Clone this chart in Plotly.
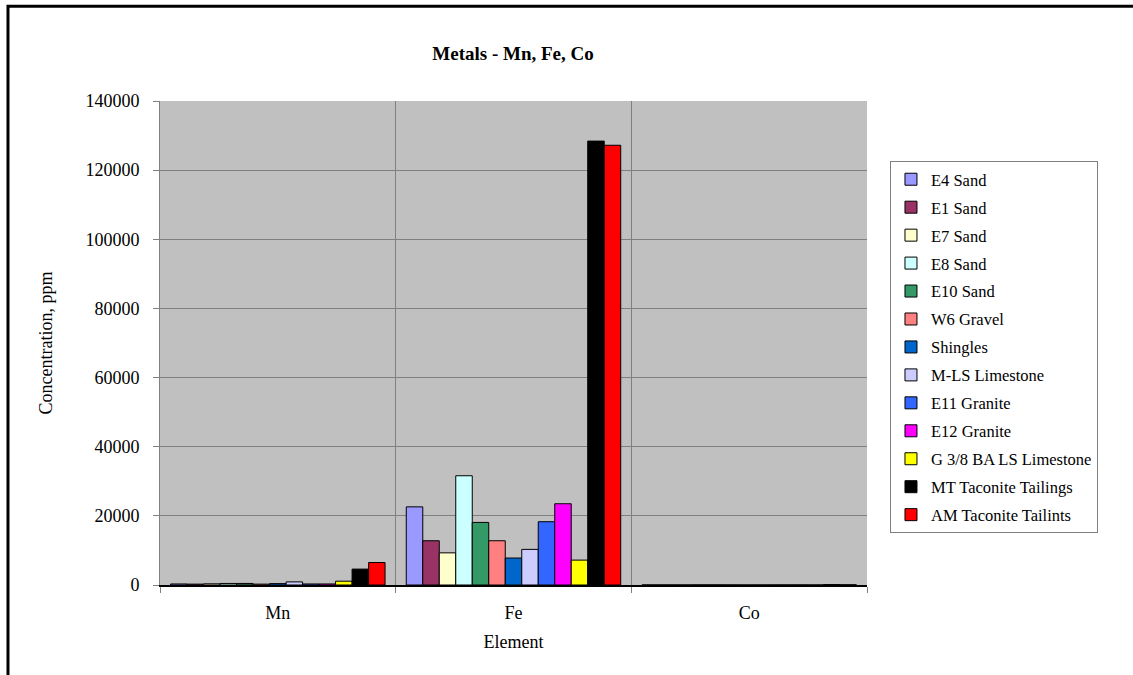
import plotly.graph_objects as go

# Element groups on the x axis
elements = ["Mn", "Fe", "Co"]

# Sample names (one bar per element)
samples = [
    "E4 Sand", "E1 Sand", "E7 Sand", "E8 Sand", "E10 Sand", "W6 Gravel",
    "Shingles", "M-LS Limestone", "E11 Granite", "E12 Granite",
    "G 3/8 BA LS Limestone", "MT Taconite Tailings", "AM Taconite Tailints",
]

# Concentrations in ppm, per sample: [Mn, Fe, Co]
e4_sand = [300, 22600, 20]
e1_sand = [250, 12800, 15]
e7_sand = [350, 9300, 15]
e8_sand = [450, 31600, 40]
e10_sand = [450, 18100, 30]
w6_gravel = [250, 12800, 20]
shingles = [400, 7800, 10]
mls_limestone = [900, 10300, 15]
e11_granite = [300, 18300, 20]
e12_granite = [300, 23500, 20]
g38_limestone = [1100, 7200, 15]
mt_tailings = [4600, 128400, 120]
am_tailings = [6500, 127200, 60]

series = [
    e4_sand, e1_sand, e7_sand, e8_sand, e10_sand, w6_gravel, shingles,
    mls_limestone, e11_granite, e12_granite, g38_limestone, mt_tailings,
    am_tailings,
]

colors = [
    "#9999FF", "#993366", "#FFFFCC", "#CCFFFF", "#339966", "#FF8080",
    "#0066CC", "#CCCCFF", "#3366FF", "#FF00FF", "#FFFF00", "#000000",
    "#FF0000",
]

# Y axis ticks
y_ticks = [0, 20000, 40000, 60000, 80000, 100000, 120000, 140000]

font_family = "Liberation Serif"

fig = go.Figure()
for i, (name, vals, col) in enumerate(zip(samples, series, colors)):
    fig.add_trace(go.Bar(
        x=elements, y=vals, name=name,
        marker=dict(color=col, line=dict(color="#000000", width=1)),
        legendgroup=f"g{i}",
    ))

# Outer chart frame
fig.add_shape(
    type="rect", xref="paper", yref="paper",
    x0=-0.215, x1=1.6, y0=-0.5, y1=1.196,
    line=dict(color="#000000", width=3), fillcolor="rgba(0,0,0,0)",
    layer="above",
)

fig.update_layout(
    width=1133, height=675,
    margin=dict(l=160, r=266, t=101, b=90),
    paper_bgcolor="#FFFFFF",
    plot_bgcolor="#C0C0C0",
    barmode="group",
    bargap=0.09,
    bargroupgap=0,
    font=dict(family=font_family, size=18, color="#000000"),
    title=dict(
        text="<b>Metals - Mn, Fe, Co</b>",
        x=(513 / 1133), xanchor="center",
        y=1 - 53 / 675, yanchor="middle",
        font=dict(family=font_family, size=19, color="#000000"),
    ),
    xaxis=dict(
        type="category",
        tickson="boundaries",
        showgrid=True, gridcolor="#808080", gridwidth=1,
        ticks="outside", ticklen=6, tickcolor="#808080",
        ticklabelstandoff=10,
        showline=True, linecolor="#000000", linewidth=2,
        mirror=False,
        tickfont=dict(family=font_family, size=18),
        title=dict(text="Element", standoff=14,
                   font=dict(family=font_family, size=18)),
    ),
    yaxis=dict(
        range=[0, 140000],
        tickvals=y_ticks,
        ticktext=[str(v) for v in y_ticks],
        showgrid=True, gridcolor="#808080", gridwidth=1,
        zeroline=False,
        ticks="outside", ticklen=6, tickcolor="#808080",
        ticklabelstandoff=10,
        showline=True, linecolor="#808080", linewidth=1,
        tickfont=dict(family=font_family, size=18),
        title=dict(text="Concentration, ppm", standoff=28,
                   font=dict(family=font_family, size=18)),
    ),
    legend=dict(
        x=1.0325, xanchor="left",
        y=0.876, yanchor="top",
        bgcolor="#FFFFFF",
        bordercolor="#808080", borderwidth=1,
        font=dict(family=font_family, size=16.5, color="#000000"),
        traceorder="grouped",
        tracegroupgap=3.5,
        itemwidth=30,
    ),
)

fig.write_html("out.html")
